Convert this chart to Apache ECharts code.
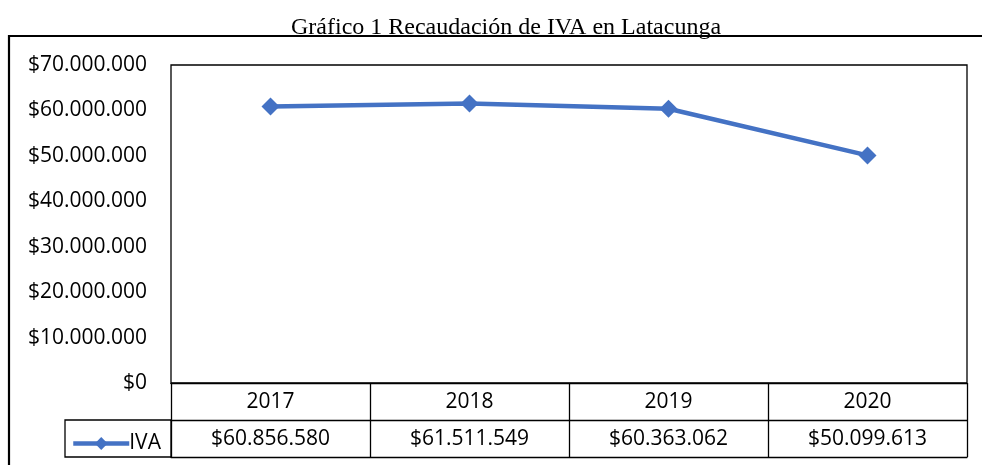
<!DOCTYPE html>
<html>
<head>
<meta charset="utf-8">
<script src="https://cdn.jsdelivr.net/npm/echarts@6/dist/echarts.min.js"></script>
<style>
  html, body { margin: 0; padding: 0; background: #fff; }
  #chart { width: 982px; height: 465px; }
</style>
</head>
<body>
<div id="chart"></div>
<script>
// datos del gráfico
const years = ["2017", "2018", "2019", "2020"];
const ivaValues = [60856580, 61511549, 60363062, 50099613];
const yTicks = [0, 10000000, 20000000, 30000000, 40000000, 50000000, 60000000, 70000000];

function money(v) {
  return "$" + String(v).replace(/\B(?=(\d{3})+(?!\d))/g, ".");
}

const labelFont = "'Open Sans', 'Noto Sans', sans-serif";
const chart = echarts.init(document.getElementById("chart"));

const option = {
  backgroundColor: "#fff",
  animation: false,
  title: {
    text: "Gráfico 1 Recaudación de IVA en Latacunga",
    left: 286,
    top: 11,
    textStyle: {
      fontFamily: "'Liberation Serif', 'DejaVu Serif', serif",
      fontWeight: "normal",
      fontSize: 24,
      color: "#000",
    },
  },
  legend: {
    left: 66,
    top: 428,
    itemWidth: 56,
    itemHeight: 16,
    itemGap: 4,
    data: ["IVA"],
    lineStyle: { width: 4.5 },
    textStyle: { fontFamily: labelFont, fontSize: 21, color: "#000", padding: [0, 0, 0, -5] },
  },
  grid: {
    left: 171,
    right: 15,
    top: 65,
    bottom: 82,
    show: true,
    borderColor: "#000",
    borderWidth: 1.3,
  },
  xAxis: [
    {
      type: "category",
      data: years,
      position: "bottom",
      axisLine: { show: true, lineStyle: { color: "#000", width: 1.3 } },
      axisTick: { show: true, interval: 0, length: 74, lineStyle: { color: "#000", width: 1.3 } },
      axisLabel: { fontFamily: labelFont, fontSize: 21, color: "#000", margin: 9, interval: 0 },
    },
    {
      type: "category",
      data: ivaValues.map(money),
      position: "bottom",
      offset: 37,
      axisLine: { show: true, lineStyle: { color: "#000", width: 1.3 } },
      axisTick: { show: false },
      axisLabel: { fontFamily: labelFont, fontSize: 21, color: "#000", margin: 9, interval: 0 },
    },
    {
      type: "category",
      data: years,
      position: "bottom",
      offset: 74,
      axisLine: { show: true, lineStyle: { color: "#000", width: 1.3 } },
      axisTick: { show: false },
      axisLabel: { show: false },
    },
  ],
  yAxis: {
    type: "value",
    min: yTicks[0],
    max: yTicks[yTicks.length - 1],
    interval: yTicks[1] - yTicks[0],
    axisLine: { show: false },
    axisTick: { show: false },
    splitLine: { show: false },
    axisLabel: {
      fontFamily: labelFont,
      fontSize: 21,
      color: "#000",
      margin: 24,
      formatter: (v) => money(v),
    },
  },
  series: [
    {
      name: "IVA",
      type: "line",
      data: ivaValues,
      symbol: "diamond",
      symbolSize: 18,
      color: "#4472C4",
      lineStyle: { width: 4.5, color: "#4472C4" },
      itemStyle: { color: "#4472C4" },
    },
  ],
  graphic: [
    {
      type: "polyline",
      shape: { points: [[9, 465], [9, 36], [982, 36]] },
      style: { stroke: "#000", lineWidth: 2.2, fill: null },
      silent: true,
    },
    {
      type: "rect",
      shape: { x: 65, y: 420, width: 106, height: 37 },
      style: { stroke: "#000", lineWidth: 1.3, fill: null },
      silent: true,
    },
  ],
};

chart.setOption(option);
</script>
</body>
</html>
